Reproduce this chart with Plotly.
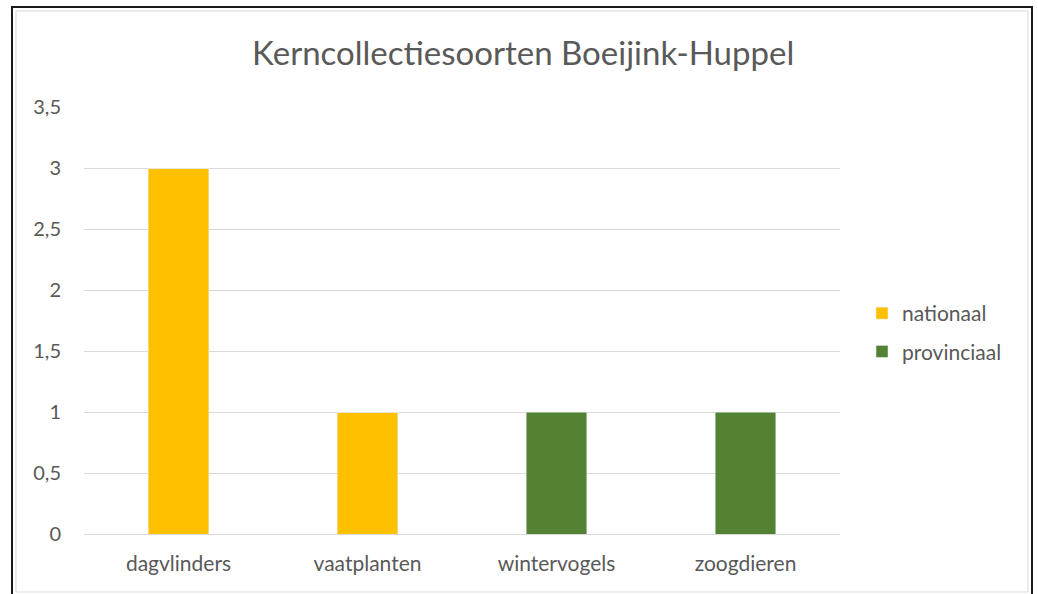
import plotly.graph_objects as go

categories = ["dagvlinders", "vaatplanten", "wintervogels", "zoogdieren"]
nationaal = [3, 1, 0, 0]
provinciaal = [0, 0, 1, 1]

font_family = "Lato, 'Open Sans', sans-serif"
text_grey = "#595959"

fig = go.Figure()
fig.add_trace(go.Bar(x=categories, y=nationaal, name="nationaal",
                     marker_color="#FFC000", legendgroup="a"))
fig.add_trace(go.Bar(x=categories, y=provinciaal, name="provinciaal",
                     marker_color="#548235", legendgroup="b"))

# plot area runs from x=84 to 840 px and y=107 to 534 px
def px_x(p):
    return (p - 84) / 756


def px_y(p):
    return (534 - p) / 427


# chart frame (outer dark line, inner light line)
fig.add_shape(type="rect", xref="paper", yref="paper",
              x0=px_x(12), x1=px_x(1032), y0=px_y(605), y1=px_y(7),
              line=dict(color="#1a1a1a", width=2), layer="below")
fig.add_shape(type="rect", xref="paper", yref="paper",
              x0=px_x(16), x1=px_x(1028), y0=px_y(592), y1=px_y(11),
              line=dict(color="#d9d9d9", width=1), layer="below")

fig.update_layout(
    width=1038,
    height=594,
    barmode="stack",
    bargap=0.68,
    separators=", ",
    title=dict(text="Kerncollectiesoorten Boeijink-Huppel", x=0.504, xanchor="center",
               y=0.91, yanchor="middle",
               font=dict(family=font_family, size=33, color=text_grey)),
    font=dict(family=font_family, color=text_grey, size=20),
    margin=dict(l=84, r=198, t=107, b=60),
    plot_bgcolor="white",
    paper_bgcolor="white",
    xaxis=dict(showgrid=False, showline=True, linecolor="#d9d9d9", linewidth=1,
               ticks="", ticklabelstandoff=11, tickfont=dict(size=21, color=text_grey)),
    yaxis=dict(range=[0, 3.5], dtick=0.5, showgrid=True, gridcolor="#d9d9d9",
               zeroline=False, showline=False, ticks="", ticklabelstandoff=22,
               tickfont=dict(size=20, color=text_grey)),
    legend=dict(x=px_x(862), y=px_y(293), xanchor="left", yanchor="top",
                tracegroupgap=8, traceorder="grouped",
                font=dict(size=21, color=text_grey), itemwidth=30),
)

fig.write_html("out.html", config={"displayModeBar": False},
               post_script="document.body.style.margin='0';")
